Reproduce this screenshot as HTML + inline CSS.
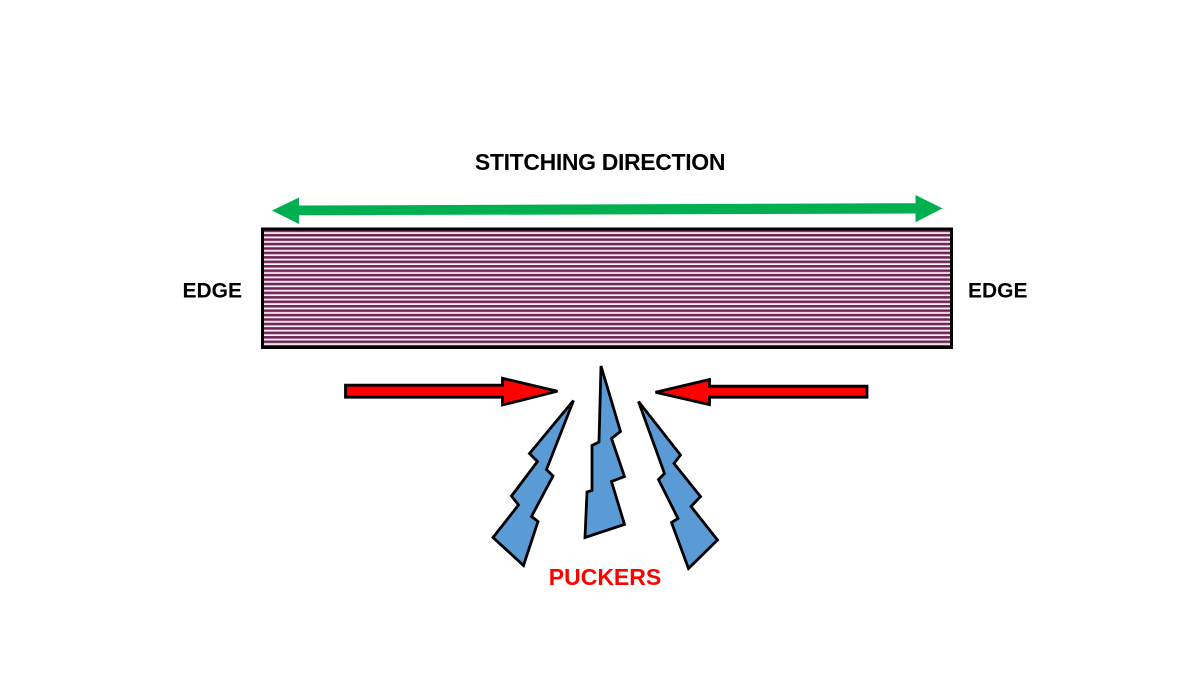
<!DOCTYPE html>
<html>
<head>
<meta charset="utf-8">
<style>
  html, body { margin: 0; padding: 0; background: #ffffff; }
  body { width: 1200px; height: 688px; overflow: hidden; }
  svg { display: block; }
  text { font-family: "Liberation Sans", "DejaVu Sans", sans-serif; font-weight: bold; }
</style>
</head>
<body>
<svg width="1200" height="688" viewBox="0 0 1200 688" xmlns="http://www.w3.org/2000/svg">
  <defs>
    <pattern id="stripes" x="0" y="229" width="10" height="4.44" patternUnits="userSpaceOnUse">
      <rect x="0" y="0" width="10" height="4.44" fill="#f6eef4"/>
      <rect x="0" y="0.5" width="10" height="2.4" fill="#6e2252"/>
      <rect x="0" y="2.9" width="10" height="0.5" fill="#c79bb6"/>
    </pattern>
  </defs>

  <!-- Title -->
  <text x="600" y="170" font-size="23" text-anchor="middle" fill="#000" letter-spacing="-0.35">STITCHING DIRECTION</text>

  <!-- Green double arrow -->
  <polygon fill="#00b050" points="272,210.5 299,197.5 299,205.5 915.5,203.2 915.5,195 942.5,208.4 915.5,222.3 915.5,213.5 299,215.3 299,224"/>

  <!-- Striped rectangle -->
  <rect x="262.5" y="229" width="689" height="118.5" fill="url(#stripes)" stroke="#000" stroke-width="3"/>

  <!-- EDGE labels -->
  <text x="182.5" y="297.5" font-size="21" fill="#000">EDGE</text>
  <text x="968" y="297.5" font-size="21" fill="#000">EDGE</text>

  <!-- Red arrows -->
  <polygon fill="#ff0000" stroke="#000" stroke-width="2.8" stroke-linejoin="miter"
           points="345.5,385.2 502.5,385.2 502.5,378.3 557.5,391.2 502.5,405 502.5,397.2 345.5,397.2"/>
  <polygon fill="#ff0000" stroke="#000" stroke-width="2.8" stroke-linejoin="miter"
           points="867,386.2 709.5,386.2 709.5,379.5 655.5,392.2 709.5,404.6 709.5,397.2 867,397.2"/>

  <!-- Puckers -->
  <polygon fill="#5b9bd5" stroke="#000" stroke-width="2.8" stroke-linejoin="miter"
           points="573.5,400.5 546.5,469.5 553,476 531.5,516.5 538,521.5 523.5,565.5 493,537.5 518.5,505 511.5,496 537.5,461.5 529.5,453.5"/>
  <polygon fill="#5b9bd5" stroke="#000" stroke-width="2.8" stroke-linejoin="miter"
           points="601,366 620.5,431.5 611.5,438.5 624.5,476.5 611.5,481.5 624.5,524.5 585,537.5 587,492 592,490.5 592,445.5 599,442"/>
  <polygon fill="#5b9bd5" stroke="#000" stroke-width="2.8" stroke-linejoin="miter"
           points="638.5,401.5 680.5,455 674,463.5 700.5,496.5 691,506.5 717.5,540 688.5,568.5 671.5,522.5 678,518.5 658.5,479.5 664.5,473.5"/>

  <!-- PUCKERS label -->
  <text x="605" y="585" font-size="23" text-anchor="middle" fill="#ff0000">PUCKERS</text>
</svg>
</body>
</html>
